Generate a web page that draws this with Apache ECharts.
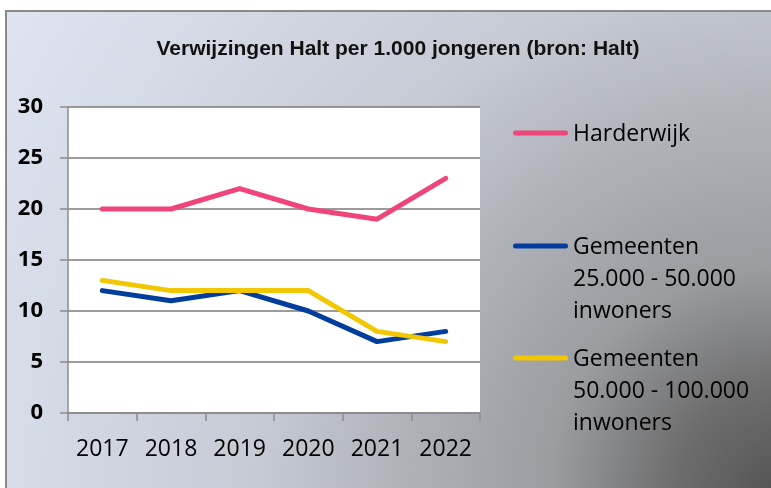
<!DOCTYPE html>
<html>
<head>
<meta charset="utf-8">
<script src="https://cdn.jsdelivr.net/npm/echarts@6/dist/echarts.min.js"></script>
<style>
  html, body { margin: 0; padding: 0; background: #ffffff; overflow: hidden; }
  #bg {
    position: absolute; left: 5px; top: 10px; width: 780px; height: 490px;
    border-left: 2px solid #8a8a8a; border-top: 2px solid #8a8a8a;
    background: radial-gradient(circle 920px at 766px 478px, #555555 0%, #6e6e6e 11%, #9a9ca0 24%, #b0b3ba 41%, #c6cad3 56%, #d4dae6 80%, #dfe5f2 100%);
  }
  #chart { position: absolute; left: 0; top: 0; width: 771px; height: 488px; }
</style>
</head>
<body>
<div id="bg"></div>
<div id="chart"></div>
<script>
const titleText = 'Verwijzingen Halt per 1.000 jongeren (bron: Halt)';
const categories = ['2017', '2018', '2019', '2020', '2021', '2022'];
const seriesNames = ['Harderwijk', 'Gemeenten 25.000 - 50.000 inwoners', 'Gemeenten 50.000 - 100.000 inwoners'];
const legendLabels = ['Harderwijk', 'Gemeenten\n25.000 - 50.000\ninwoners', 'Gemeenten\n50.000 - 100.000\ninwoners'];
const harderwijk = [20, 20, 22, 20, 19, 23];
const gemeenten25 = [12, 11, 12, 10, 7, 8];
const gemeenten50 = [13, 12, 12, 12, 8, 7];
const seriesValues = [harderwijk, gemeenten25, gemeenten50];
const colors = ['#f0457a', '#003d9d', '#f3c700'];
const yTicks = { min: 0, max: 30, interval: 5 };

const FONT = 'Open Sans';
const LH = 32;
const legendTops = [118, 231, 343];

function iconPath(lines) {
  const h = LH * lines;
  const c = LH / 2 - 1;
  const t = c - 2.5, b = c + 2.5;
  return 'path://M0,0 L0.01,0 M2.5,' + t + ' L52.5,' + t + ' A2.5,2.5 0 0 1 52.5,' + b +
         ' L2.5,' + b + ' A2.5,2.5 0 0 1 2.5,' + t + ' Z M0,' + h + ' L0.01,' + h;
}

const chart = echarts.init(document.getElementById('chart'), null, { renderer: 'canvas' });

const legends = seriesNames.map((name, i) => {
  const lines = legendLabels[i].split('\n').length;
  return {
    data: [name],
    left: 513,
    top: legendTops[i],
    padding: 0,
    orient: 'vertical',
    selectedMode: false,
    itemWidth: 55,
    itemHeight: LH * lines,
    icon: iconPath(lines),
    formatter: () => legendLabels[i],
    textStyle: { fontFamily: FONT, fontSize: 23, color: '#000', lineHeight: LH }
  };
});

chart.setOption({
  backgroundColor: 'transparent',
  animation: false,
  title: {
    text: titleText,
    left: 393,
    textAlign: 'center',
    top: 34,
    textStyle: { fontFamily: 'Liberation Sans', fontWeight: 'bold', fontSize: 21, color: '#111' }
  },
  legend: legends,
  grid: {
    left: 68, top: 107, right: 291, bottom: 75,
    show: true, backgroundColor: '#ffffff', borderWidth: 0
  },
  xAxis: {
    type: 'category',
    data: categories,
    boundaryGap: true,
    axisLine: { lineStyle: { color: '#8c8c8c', width: 1.5 } },
    axisTick: { show: true, length: 8, inside: false, lineStyle: { color: '#8c8c8c', width: 1.5 } },
    axisLabel: { fontFamily: FONT, fontSize: 23, color: '#000', margin: 25 },
    splitLine: { show: false }
  },
  yAxis: {
    type: 'value',
    min: yTicks.min, max: yTicks.max, interval: yTicks.interval,
    axisLine: { show: true, lineStyle: { color: '#8c8c8c', width: 1.5 } },
    axisTick: { show: true, length: 8, lineStyle: { color: '#8c8c8c', width: 1.5 } },
    axisLabel: { fontFamily: FONT, fontSize: 22, fontWeight: 'bold', color: '#000', margin: 25 },
    splitLine: { show: true, lineStyle: { color: '#7a7a7a', width: 1.5 } }
  },
  series: seriesNames.map((name, i) => ({
    name: name,
    type: 'line',
    data: seriesValues[i],
    symbol: 'none',
    showSymbol: false,
    color: colors[i],
    lineStyle: { color: colors[i], width: 5, cap: 'round', join: 'round' },
    emphasis: { disabled: true },
    z: 3 + (i === 2 ? 1 : 0)
  }))
});
</script>
</body>
</html>
